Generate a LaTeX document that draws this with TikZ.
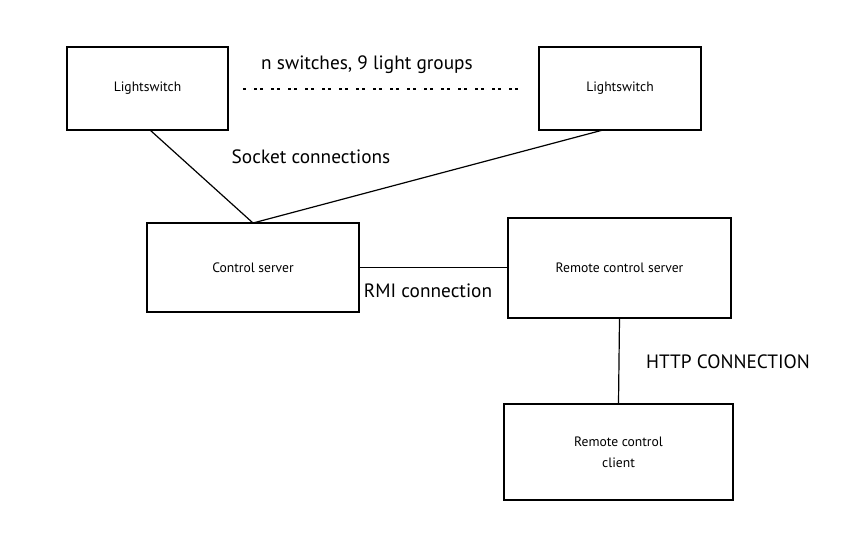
\documentclass[tikz,border=0pt]{standalone}
\usepackage{fontspec}
\setmainfont{PT Sans}
\begin{document}
\begin{tikzpicture}[x=1pt,y=-1pt,
  box/.style={draw,line width=1.6pt,inner sep=0pt,font=\fontsize{13.6}{21}\selectfont,align=center},
  conn/.style={line width=1.2pt},
  lbl/.style={font=\fontsize{19.3}{22}\selectfont,inner sep=0pt}]
\useasboundingbox (0,0) rectangle (854,558);
\node[box,minimum width=161pt,minimum height=83pt] (ls1) at (147.5,88.5) {\raisebox{-2pt}{Lightswitch}};
\node[box,minimum width=162pt,minimum height=83pt] (ls2) at (620,88.5) {\raisebox{-2pt}{Lightswitch}};
\node[box,minimum width=212pt,minimum height=89pt] (cs) at (253,267.5) {Control server};
\node[box,minimum width=223pt,minimum height=100pt] (rcs) at (619.5,268) {Remote control server};
\node[box,minimum width=229pt,minimum height=96pt] (rcc) at (618.5,452) {Remote control\\client};
\coordinate (top) at (253,223);
\draw[conn] (150,130) -- (top);
\draw[conn] (603,130) -- (top);
\draw[conn] (cs.east) -- (cs.east -| rcs.west);
\draw[conn] (rcs.south) -- (rcc.north);
\coordinate (d1) at (243,89);
\coordinate (d2) at (525,89);
\draw[line width=1.3pt,dash pattern=on 3pt off 8pt on 3pt off 3pt] (d1) -- (d2);
\node[lbl] (t1) at (367,65) {n switches, 9 light groups};
\node[lbl] (t2) at (311,157) {Socket connections};
\node[lbl] (t3) at (428,291) {RMI connection};
\node[lbl] (t4) at (728,362) {HTTP CONNECTION};
\end{tikzpicture}
\end{document}
